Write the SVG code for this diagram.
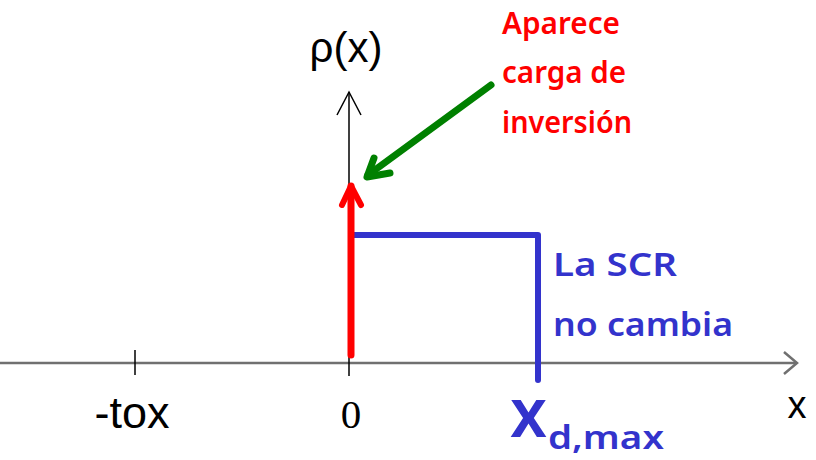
<svg xmlns="http://www.w3.org/2000/svg" width="816" height="460" viewBox="0 0 816 460">
<style>
.ax{stroke:#707070;stroke-width:2.5;fill:none}
.thin{stroke:#000;stroke-width:1.5;fill:none}
.lbl{font-family:"Liberation Sans",Arial,sans-serif;fill:#000}
.hand{font-family:"Noto Sans","DejaVu Sans",sans-serif;font-weight:600}
.red{fill:#ff0000}
.blue{fill:#3333cc}
</style>
<rect width="816" height="460" fill="#fff"/>
<g id="connectors">
  <line class="ax" x1="0" y1="363" x2="796" y2="363"/>
  <polyline class="ax" points="784,352 797,363 784,374"/>
  <line class="thin" x1="349" y1="92" x2="349" y2="376"/>
  <polyline class="thin" points="337,115 349,92 361,115"/>
  <line class="thin" x1="135" y1="350" x2="135" y2="375"/>
  <line stroke="#33c" stroke-width="6" x1="351" y1="235" x2="538" y2="235"/>
  <line stroke="#33c" stroke-width="6" stroke-linecap="round" x1="538" y1="235" x2="538" y2="380"/>
  <line stroke="#ff0000" stroke-width="7" stroke-linecap="round" x1="351" y1="355" x2="351" y2="186"/>
  <polyline fill="none" stroke="#ff0000" stroke-width="6" stroke-linecap="round" stroke-linejoin="round" points="342,205 351,186 361,205"/>
  <line stroke="#008000" stroke-width="7" stroke-linecap="round" x1="491" y1="85" x2="368" y2="175"/>
  <polyline fill="none" stroke="#008000" stroke-width="7" stroke-linecap="round" stroke-linejoin="round" points="374,158 367,177 390,173"/>
</g>
<g id="yaxis-label"><text class="lbl" x="346" y="62" font-size="42" text-anchor="middle">ρ(x)</text></g>
<g id="xaxis-label"><text class="lbl" x="797" y="418" font-size="38" text-anchor="middle">x</text></g>
<g id="tick-tox"><text class="lbl" x="132" y="428" font-size="45" text-anchor="middle">-tox</text></g>
<g id="tick-0"><text x="351" y="428" font-size="41" text-anchor="middle" font-family="'Liberation Serif',serif" fill="#000">0</text></g>
<g id="note-inversion">
  <text class="hand red" x="502" y="34" font-size="31" textLength="118" lengthAdjust="spacingAndGlyphs">Aparece</text>
  <text class="hand red" x="502" y="83" font-size="31" textLength="124" lengthAdjust="spacingAndGlyphs">carga de</text>
  <text class="hand red" x="502" y="133" font-size="31" textLength="130" lengthAdjust="spacingAndGlyphs">inversión</text>
</g>
<g id="note-scr">
  <text class="hand blue" x="553" y="276" font-size="33" textLength="124" lengthAdjust="spacingAndGlyphs">La SCR</text>
  <text class="hand blue" x="553" y="336" font-size="33" textLength="180" lengthAdjust="spacingAndGlyphs">no cambia</text>
</g>
<g id="xdmax">
  <text class="hand blue" x="510" y="437" font-size="68" font-weight="bold" textLength="37" lengthAdjust="spacingAndGlyphs">x</text>
  <text class="hand blue" x="548" y="449" font-size="32" textLength="116" lengthAdjust="spacingAndGlyphs">d,max</text>
</g>
</svg>
